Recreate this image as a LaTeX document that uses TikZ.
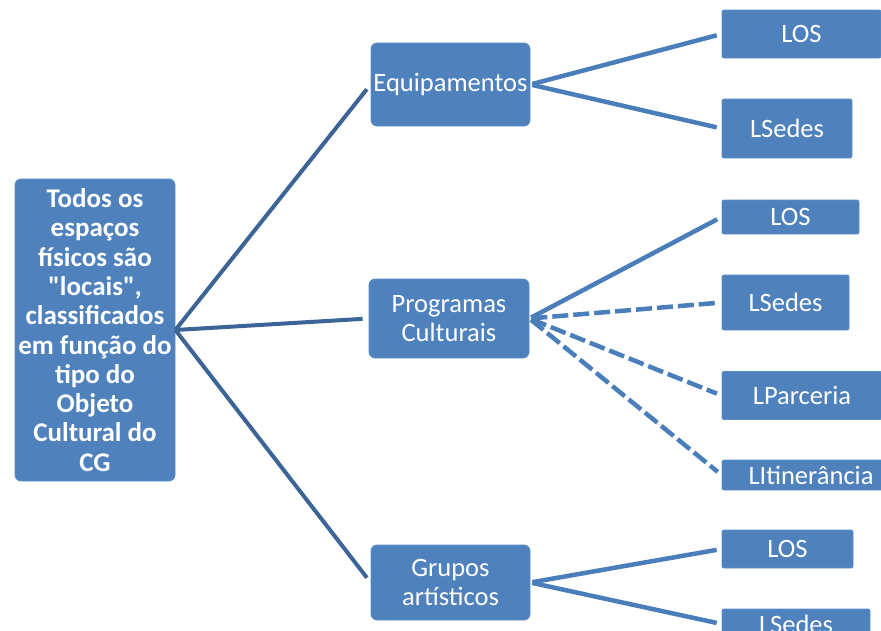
\documentclass[tikz,border=0pt]{standalone}
\usepackage{fontspec}
\setmainfont{Carlito}[Ligatures=TeXOff]
\definecolor{boxblue}{HTML}{4F81BD}
\definecolor{boxedge}{HTML}{5B8DC9}
\definecolor{darkline}{HTML}{3D6497}
\definecolor{lightline}{HTML}{4A7EBB}
\begin{document}
\begin{tikzpicture}[x=1pt,y=-1pt,
  box/.style={draw=boxedge,line width=0.8pt,fill=boxblue,text=white,inner sep=0pt,align=center,
    font=\fontsize{26.5}{29}\selectfont},
  bigbox/.style={box,rounded corners=6pt},
  leaf/.style={box,rounded corners=2pt},
  trunk/.style={draw=darkline,line width=4pt,shorten >=6pt},
  branch/.style={draw=lightline,line width=4.5pt,shorten >=5pt,shorten <=2pt},
  dashbranch/.style={branch,dash pattern=on 16pt off 5pt}]
\useasboundingbox (0,0) rectangle (881,630);
\fill[white] (0,0) rectangle (881,630);
% root
\node[bigbox,minimum width=160pt,minimum height=302pt,font=\bfseries\fontsize{27}{29.3}\selectfont] (root) at (95,330)
  {Todos os\\espaços\\físicos são\\"locais",\\classificados\\em função do\\tipo do\\Objeto\\Cultural do\\CG};
% middle
\node[bigbox,minimum width=159pt,minimum height=83pt] (equip) at (450.5,84.5) {Equipamentos};
\node[bigbox,minimum width=160pt,minimum height=79pt] (prog) at (449,318.5) {Programas\\Culturais};
\node[bigbox,minimum width=159pt,minimum height=75pt] (grup) at (450.5,582.5) {Grupos\\artísticos};
% leaves
\node[leaf,minimum width=159pt,minimum height=48pt] (los1) at (801.5,34) {LOS};
\node[leaf,minimum width=130pt,minimum height=59pt] (sed1) at (787,128.5) {LSedes};
\node[leaf,minimum width=137pt,minimum height=34pt] (los2) at (790.5,217) {LOS};
\node[leaf,minimum width=127pt,minimum height=55pt] (sed2) at (785.5,302.5) {LSedes};
\node[leaf,minimum width=160pt,minimum height=48pt] (par2) at (802,395.5) {LParceria};
\node[leaf,minimum width=178pt,minimum height=30pt] (iti2) at (811,475) {LItinerância};
\node[leaf,minimum width=131pt,minimum height=38pt] (los3) at (787.5,549) {LOS};
\node[leaf,minimum width=148pt,minimum height=30pt] (sed3) at (796,624) {LSedes};
% trunk connectors
\draw[trunk] (root.east) -- (equip.west);
\draw[trunk] (root.east) -- (prog.west);
\draw[trunk] (root.east) -- (grup.west);
% branches
\draw[branch] (equip.east) -- (los1.west);
\draw[branch] (equip.east) -- (sed1.west);
\draw[branch] (prog.east) -- (los2.west);
\draw[dashbranch] (prog.east) -- (sed2.west);
\draw[dashbranch] (prog.east) -- (par2.west);
\draw[dashbranch] (prog.east) -- (iti2.west);
\draw[branch] (grup.east) -- (los3.west);
\draw[branch] (grup.east) -- (sed3.west);
\end{tikzpicture}
\end{document}
